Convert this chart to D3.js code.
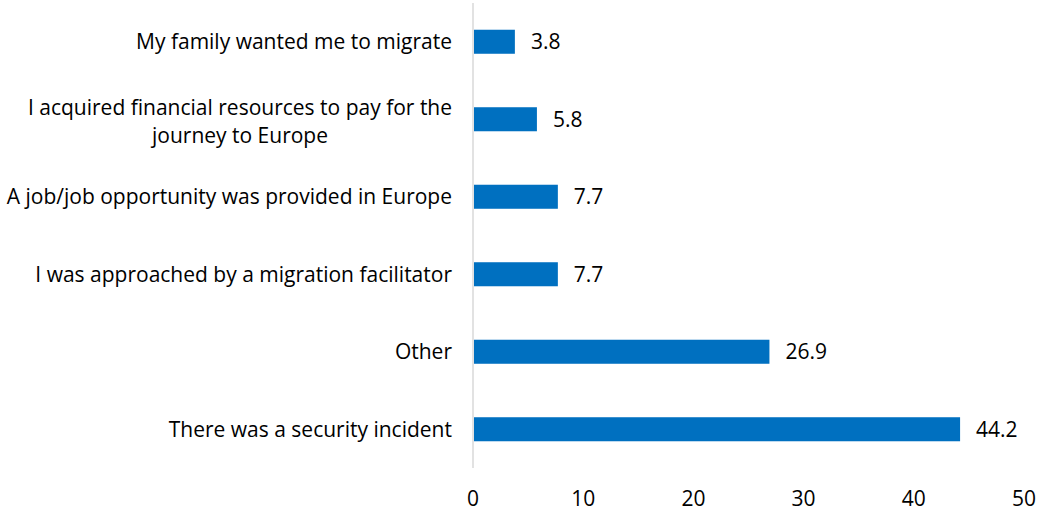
<!DOCTYPE html>
<html><head><meta charset="utf-8">
<script src="https://cdn.jsdelivr.net/npm/d3@7"></script>
<style>body{margin:0;background:#fff}svg{display:block}text{font-family:"Open Sans",Lato,sans-serif;fill:#000}</style>
</head><body>
<svg id="c" width="1038" height="512"></svg>
<script>
const categories = [
  ["My family wanted me to migrate"],
  ["I acquired financial resources to pay for the","journey to Europe"],
  ["A job/job opportunity was provided in Europe"],
  ["I was approached by a migration facilitator"],
  ["Other"],
  ["There was a security incident"]
];
const values = [3.8, 5.8, 7.7, 7.7, 26.9, 44.2];
const ticks = [0, 10, 20, 30, 40, 50];

const svg = d3.select("#c");
const x = d3.scaleLinear().domain([0, 50]).range([473, 1024]);
const y = d3.scaleBand().domain(d3.range(values.length)).range([3, 468]).paddingInner(0.69).paddingOuter(0.345);
const fs = 21;

svg.append("line").attr("x1", x(0)).attr("x2", x(0)).attr("y1", 3).attr("y2", 468)
  .attr("stroke", "#d9d9d9").attr("stroke-width", 1.5);

svg.selectAll("rect.bar").data(values).join("rect").attr("class","bar")
  .attr("x", x(0)+1).attr("y", (d,i)=>y(i)).attr("width", d=>x(d)-x(0)-1).attr("height", y.bandwidth())
  .attr("fill", "#0070C0");

svg.selectAll("text.val").data(values).join("text").attr("class","val")
  .attr("x", d=>x(d)+16).attr("y", (d,i)=>y(i)+y.bandwidth()/2).attr("dy","0.35em")
  .attr("font-size", fs).text(d=>d.toFixed(1));

const labels = svg.append("g");
categories.forEach((lines,i)=>{
  const cy = y(i)+y.bandwidth()/2 + (lines.length>1?2:0);
  const lh = 28;
  const t = labels.append("text").attr("class","lab").attr("text-anchor", lines.length>1?"middle":"end").attr("font-size", fs);
  lines.forEach((l,j)=>{
    t.append("tspan").attr("x", lines.length>1?240:452).attr("y", cy + (j-(lines.length-1)/2)*lh).attr("dy","0.35em").text(l);
  });
});

const ax = svg.append("g");
ax.selectAll("text").data(ticks).join("text").attr("x", d=>x(d)).attr("y", 499).attr("dy","0.35em")
  .attr("text-anchor","middle").attr("font-size", fs).text(d=>d);
</script>
</body></html>
